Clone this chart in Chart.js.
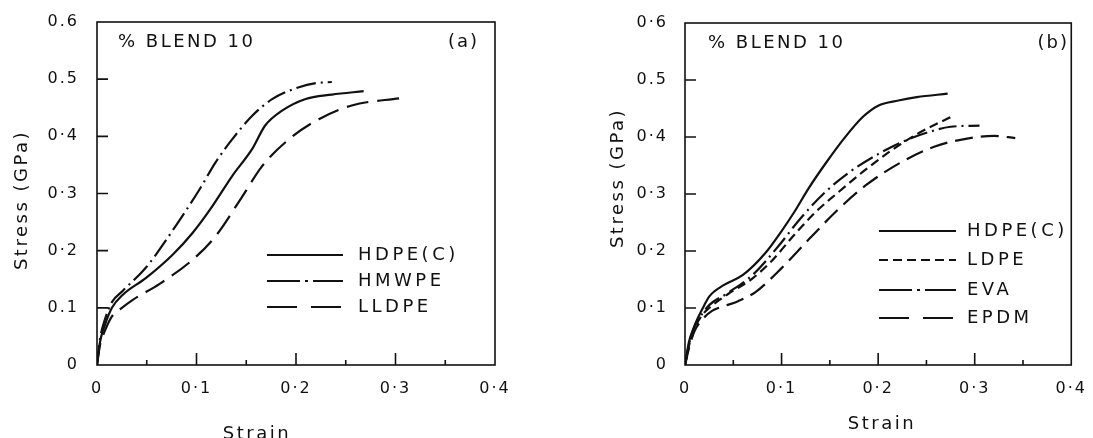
<!DOCTYPE html>
<html>
<head>
<meta charset="utf-8">
<script src="https://cdn.jsdelivr.net/npm/chart.js@4.4.1/dist/chart.umd.min.js"></script>
<style>
  body { margin: 0; background: #fff; width: 1093px; height: 438px; overflow: hidden; position: relative; }
  canvas { position: absolute; top: 0; }
  #chartA { left: 0; }
  #chartB { left: 560px; }
</style>
</head>
<body>
<canvas id="chartA" width="520" height="438"></canvas>
<canvas id="chartB" width="533" height="438"></canvas>
<script>
// tick labels (the scan mixes raised and low decimal points)
const xTickLabels = ['0', '0·1', '0·2', '0·3', '0·4'];
const yTickLabelsA = ['0', '0.1', '0·2', '0·3', '0·4', '0.5', '0.6'];
const yTickLabelsB = ['0', '0·1', '0·2', '0·3', '0·4', '0.5', '0·6'];

// panel (a)
const hdpeA_strain = [0, 0.003, 0.008, 0.015, 0.026, 0.049, 0.076, 0.096, 0.116, 0.136, 0.156, 0.169, 0.186, 0.209, 0.236, 0.268];
const hdpeA_stress = [0, 0.04, 0.07, 0.1, 0.123, 0.152, 0.193, 0.231, 0.278, 0.331, 0.378, 0.419, 0.445, 0.465, 0.473, 0.479];
const hmwpeA_strain = [0, 0.003, 0.008, 0.015, 0.026, 0.049, 0.079, 0.103, 0.119, 0.136, 0.156, 0.176, 0.203, 0.22, 0.236];
const hmwpeA_stress = [0, 0.045, 0.08, 0.11, 0.13, 0.17, 0.243, 0.307, 0.354, 0.395, 0.436, 0.465, 0.486, 0.493, 0.495];
const lldpeA_strain = [0, 0.003, 0.008, 0.015, 0.025, 0.036, 0.063, 0.096, 0.119, 0.145, 0.166, 0.193, 0.223, 0.256, 0.306];
const lldpeA_stress = [0, 0.035, 0.06, 0.085, 0.1, 0.114, 0.142, 0.184, 0.225, 0.292, 0.348, 0.395, 0.43, 0.454, 0.467];

// panel (b)
const hdpeB_strain = [0, 0.004, 0.009, 0.014, 0.02, 0.025, 0.04, 0.06, 0.083, 0.1, 0.113, 0.128, 0.147, 0.165, 0.184, 0.2, 0.221, 0.24, 0.272];
const hdpeB_stress = [0, 0.04, 0.065, 0.085, 0.105, 0.12, 0.14, 0.158, 0.196, 0.235, 0.268, 0.31, 0.357, 0.398, 0.435, 0.455, 0.464, 0.47, 0.476];
const ldpeB_strain = [0, 0.005, 0.01, 0.018, 0.025, 0.045, 0.07, 0.09, 0.113, 0.135, 0.158, 0.185, 0.21, 0.24, 0.275];
const ldpeB_stress = [0, 0.04, 0.065, 0.088, 0.1, 0.125, 0.152, 0.183, 0.228, 0.268, 0.302, 0.34, 0.372, 0.405, 0.435];
const evaB_strain = [0, 0.005, 0.01, 0.018, 0.025, 0.045, 0.07, 0.095, 0.12, 0.145, 0.17, 0.2, 0.23, 0.255, 0.275, 0.305];
const evaB_stress = [0, 0.042, 0.068, 0.09, 0.105, 0.127, 0.158, 0.205, 0.258, 0.303, 0.338, 0.37, 0.395, 0.41, 0.418, 0.42];
const epdmB_strain = [0, 0.005, 0.01, 0.018, 0.028, 0.04, 0.055, 0.073, 0.1, 0.128, 0.158, 0.187, 0.22, 0.258, 0.295, 0.32, 0.342];
const epdmB_stress = [0, 0.035, 0.06, 0.08, 0.095, 0.103, 0.112, 0.128, 0.17, 0.22, 0.272, 0.315, 0.352, 0.383, 0.398, 0.402, 0.398];

const INK = '#111';
Chart.defaults.font.family = "'DejaVu Sans', sans-serif";
Chart.defaults.color = INK;

function pts(strain, stress) {
  return strain.map((x, i) => ({ x: x, y: stress[i] }));
}

function line(label, strain, stress, dash, legendDash) {
  return {
    label: label,
    data: pts(strain, stress),
    borderColor: INK,
    borderWidth: 2.2,
    borderDash: dash,
    legendDash: legendDash,
    pointRadius: 0,
    fill: false,
    cubicInterpolationMode: 'monotone',
  };
}

// draws the box, inward ticks, panel texts and the legend
const paperPlugin = {
  id: 'paper',
  beforeLayout(chart) { chart.ctx.letterSpacing = '2px'; },
  beforeDraw(chart) { chart.ctx.letterSpacing = '2px'; },
  afterDraw(chart) {
    const ctx = chart.ctx;
    const p = chart.options.plugins.paper;
    const { left, right, top, bottom } = chart.chartArea;
    const xs = chart.scales.x, ys = chart.scales.y;

    ctx.save();
    ctx.strokeStyle = INK;
    ctx.lineWidth = 1.6;
    ctx.setLineDash([]);
    ctx.strokeRect(left, top, right - left, bottom - top);

    ctx.beginPath();
    xs.ticks.forEach(t => {
      const k = Math.round(t.value * 20);
      if (k <= 0 || k >= 8) return;
      const px = xs.getPixelForValue(t.value);
      ctx.moveTo(px, bottom);
      ctx.lineTo(px, bottom - (k % 2 ? 5 : 12));
    });
    ys.ticks.forEach(t => {
      const k = Math.round(t.value * 10);
      if (k <= 0 || k >= 6) return;
      const py = ys.getPixelForValue(t.value);
      ctx.moveTo(left, py);
      ctx.lineTo(left + 11, py);
    });
    ctx.stroke();

    ctx.fillStyle = INK;
    ctx.textBaseline = 'middle';
    ctx.font = "18px 'DejaVu Sans'";
    ctx.letterSpacing = '2.5px';
    ctx.textAlign = 'left';
    ctx.fillText('% BLEND 10', p.blend.x, p.blend.y);
    ctx.letterSpacing = '2px';
    ctx.textAlign = 'right';
    ctx.fillText(p.tag.text, p.tag.x, p.tag.y);

    // axis titles
    ctx.letterSpacing = '2.5px';
    ctx.textAlign = 'center';
    ctx.fillText('Strain', p.xTitle.x, p.xTitle.y);
    ctx.save();
    ctx.translate(p.yTitle.x, p.yTitle.y);
    ctx.rotate(-Math.PI / 2);
    ctx.fillText('Stress (GPa)', 0, 0);
    ctx.restore();

    // legend
    const lg = p.legend;
    chart.data.datasets.forEach((ds, i) => {
      const y = lg.rows[i];
      ctx.beginPath();
      ctx.lineWidth = 2.2;
      ctx.setLineDash(ds.legendDash || []);
      ctx.moveTo(lg.x0, y);
      ctx.lineTo(lg.x1, y);
      ctx.stroke();
      ctx.setLineDash([]);
      ctx.letterSpacing = '3.5px';
      ctx.textAlign = 'left';
      ctx.fillText(ds.label, lg.tx, y);
    });
    ctx.restore();
  }
};

function makeChart(id, datasets, yLabels, panel) {
  const el = document.getElementById(id);
  return new Chart(el.getContext('2d'), {
    type: 'line',
    data: { datasets: datasets },
    plugins: [paperPlugin],
    options: {
      responsive: false,
      animation: false,
      events: [],
      layout: { autoPadding: false, padding: { left: 0, top: panel.top, right: panel.right, bottom: 0 } },
      scales: {
        x: {
          type: 'linear', min: 0, max: 0.4,
          grid: { display: false }, border: { display: false },
          ticks: {
            stepSize: 0.05, autoSkip: false, maxRotation: 0, padding: 6,
            font: { size: 16 },
            callback: v => { const k = Math.round(v * 20); return k % 2 ? '' : xTickLabels[k / 2]; }
          },
          afterFit: s => { s.height = 73; }
        },
        y: {
          type: 'linear', min: 0, max: 0.6,
          grid: { display: false }, border: { display: false },
          ticks: {
            stepSize: 0.1, padding: panel.yPad,
            font: { size: 16 },
            callback: v => yLabels[Math.round(v * 10)]
          },
          afterFit: s => { s.width = panel.yWidth; }
        }
      },
      plugins: {
        legend: { display: false },
        tooltip: { enabled: false },
        paper: panel.paper
      }
    }
  });
}

makeChart('chartA', [
  line('HDPE(C)', hdpeA_strain, hdpeA_stress, [], []),
  line('HMWPE', hmwpeA_strain, hmwpeA_stress, [20, 5, 2, 5], [33, 5, 3, 5]),
  line('LLDPE', lldpeA_strain, lldpeA_stress, [22, 9], [30, 14]),
], yTickLabelsA, {
  top: 22, right: 25, yWidth: 97, yPad: 10,
  paper: {
    blend: { x: 118, y: 42 },
    tag: { text: '(a)', x: 479, y: 42 },
    legend: { x0: 267, x1: 343, tx: 358, rows: [255, 281, 307] },
    xTitle: { x: 257, y: 434 },
    yTitle: { x: 22, y: 200 }
  }
});

makeChart('chartB', [
  line('HDPE(C)', hdpeB_strain, hdpeB_stress, [], []),
  line('LDPE', ldpeB_strain, ldpeB_stress, [9, 5], [9, 5]),
  line('EVA', evaB_strain, evaB_stress, [18, 5, 2, 5], [33, 5, 3, 5]),
  line('EPDM', epdmB_strain, epdmB_stress, [18, 8], [30, 14]),
], yTickLabelsB, {
  top: 23, right: 13, yWidth: 125, yPad: 9,
  paper: {
    blend: { x: 148, y: 43 },
    tag: { text: '(b)', x: 509, y: 43 },
    legend: { x0: 319, x1: 396, tx: 407, rows: [231, 260, 290, 318] },
    xTitle: { x: 322, y: 424 },
    yTitle: { x: 58, y: 178 }
  }
});
</script>
</body>
</html>
